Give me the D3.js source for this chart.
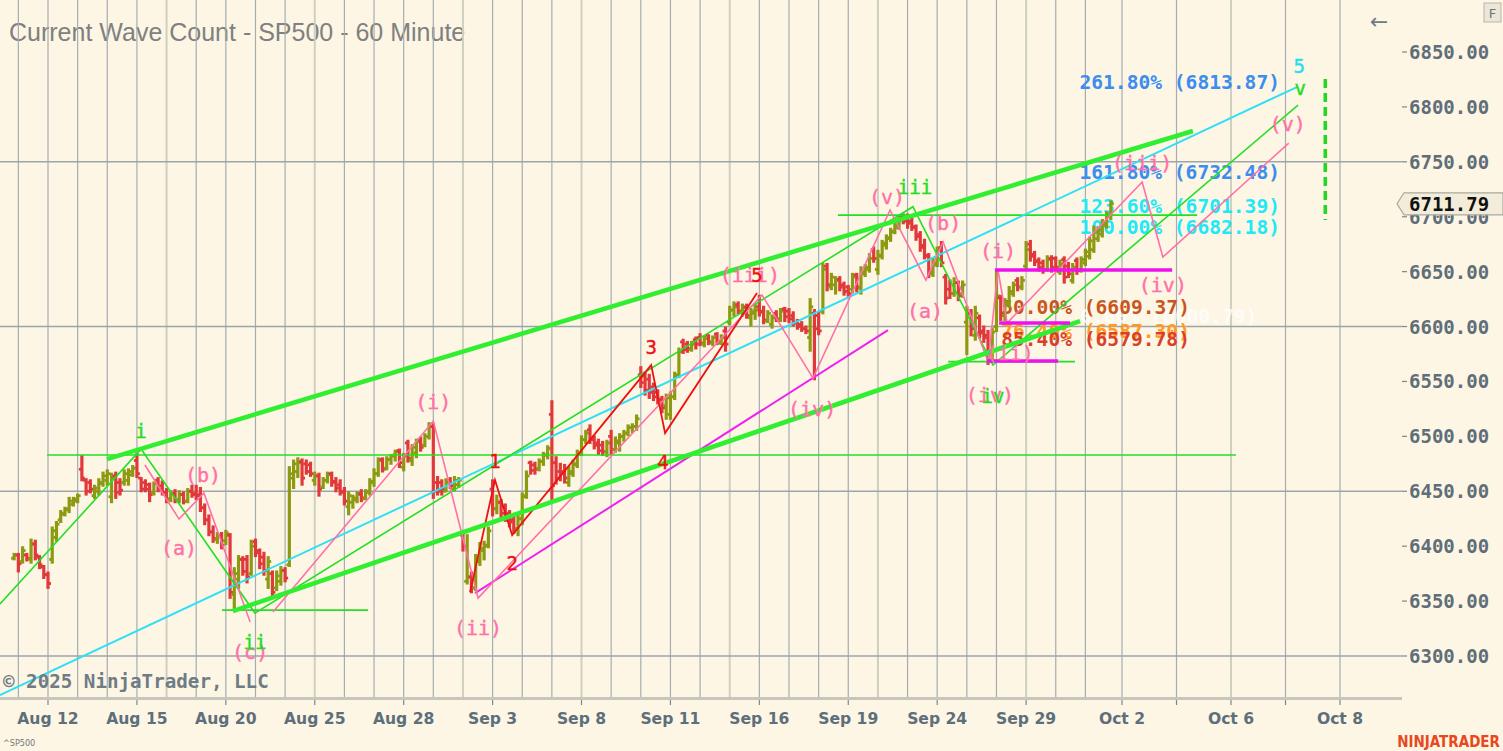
<!DOCTYPE html>
<html><head><meta charset="utf-8">
<script src="https://cdnjs.cloudflare.com/ajax/libs/d3/7.8.5/d3.min.js"></script>
<style>html,body{margin:0;padding:0;background:#fdf6e4;overflow:hidden} svg{display:block}</style>
</head><body><svg id="c" width="1503" height="751"></svg>
<script>
// ---------------- DATA ----------------
// trading days (index 0 = Aug 11); future days appended
const dayNames = ['Aug 11','Aug 12','Aug 13','Aug 14','Aug 15','Aug 18','Aug 19','Aug 20','Aug 21','Aug 22',
  'Aug 25','Aug 26','Aug 27','Aug 28','Aug 29','Sep 2','Sep 3','Sep 4','Sep 5','Sep 8','Sep 9','Sep 10',
  'Sep 11','Sep 12','Sep 15','Sep 16','Sep 17','Sep 18','Sep 19','Sep 22','Sep 23','Sep 24','Sep 25',
  'Sep 26','Sep 29','Sep 30','Oct 1','Oct 2','Oct 3','Oct 6','Oct 7','Oct 8'];
const weekStarts = [5,10,15,19,24,29,34,39];
const dateLabelDays = [1,4,7,10,13,16,19,22,25,28,31,34,37,39,41];
const extraTickDays = [38,40];
const priceTicks = [6300,6350,6400,6450,6500,6550,6600,6650,6700,6750,6800,6850];
const majorPriceLines = [6300,6450,6600,6750];
const lastPrice = 6711.79;

// hourly OHLC bars, 7 per day, [open, high, low, close]; first entry = last bar of Aug 8
const preBar = [6389,6393,6388,6392];
const hourlyBars = [
 [[6392,6393,6377,6384],[6386,6399,6385,6396],[6392,6393,6387,6389],[6388,6406,6385,6402],[6402,6405,6388,6392],[6390,6391,6380,6383],[6381,6382,6371,6374]],
 [[6374,6376,6362,6366],[6388,6417,6385,6414],[6408,6422,6405,6420],[6424,6432,6422,6430],[6429,6435,6428,6434],[6433,6444,6431,6441],[6438,6444,6437,6443]],
 [[6441,6447,6440,6446],[6470,6482,6460,6462],[6460,6461,6447,6450],[6458,6460,6449,6452],[6446,6455,6444,6453],[6450,6461,6447,6458],[6457,6467,6455,6464]],
 [[6460,6469,6456,6466],[6445,6466,6440,6462],[6464,6467,6444,6449],[6458,6461,6447,6451],[6458,6469,6456,6466],[6460,6470,6456,6468],[6465,6473,6464,6471]],
 [[6478,6484,6463,6466],[6462,6462,6450,6452],[6458,6460,6450,6452],[6456,6457,6441,6447],[6449,6458,6447,6457],[6460,6462,6450,6452],[6455,6459,6447,6449]],
 [[6449,6452,6440,6443],[6443,6450,6441,6448],[6448,6451,6440,6442],[6442,6450,6440,6447],[6447,6449,6439,6441],[6441,6452,6440,6450],[6450,6455,6445,6447]],
 [[6448,6455,6443,6446],[6447,6453,6432,6435],[6435,6438,6420,6424],[6424,6428,6410,6413],[6413,6418,6404,6407],[6406,6412,6403,6410],[6410,6412,6398,6401]],
 [[6405,6414,6402,6412],[6410,6411,6353,6358],[6356,6380,6342,6375],[6370,6391,6362,6388],[6388,6390,6374,6377],[6388,6391,6367,6372],[6375,6405,6374,6400]],
 [[6404,6406,6391,6394],[6396,6397,6380,6384],[6390,6394,6374,6378],[6370,6390,6362,6386],[6375,6377,6353,6358],[6362,6377,6360,6373],[6368,6381,6365,6378]],
 [[6378,6380,6368,6371],[6383,6472,6382,6466],[6462,6478,6453,6475],[6468,6480,6463,6476],[6477,6479,6456,6462],[6475,6478,6466,6468],[6474,6476,6464,6466]],
 [[6460,6467,6456,6464],[6464,6466,6446,6452],[6454,6462,6453,6460],[6460,6467,6458,6465],[6466,6467,6455,6458],[6459,6462,6450,6453],[6456,6460,6447,6449]],
 [[6450,6453,6438,6441],[6436,6449,6429,6446],[6440,6446,6435,6444],[6442,6449,6440,6447],[6448,6451,6441,6444],[6443,6451,6443,6450],[6449,6461,6447,6459]],
 [[6458,6470,6455,6466],[6466,6480,6464,6478],[6479,6480,6468,6470],[6471,6481,6470,6479],[6479,6483,6475,6482],[6483,6487,6478,6486],[6487,6488,6472,6476]],
 [[6472,6484,6469,6482],[6494,6496,6477,6480],[6478,6492,6474,6490],[6485,6497,6481,6495],[6497,6499,6487,6490],[6492,6502,6491,6500],[6500,6512,6498,6509]],
 [[6509,6511,6444,6450],[6458,6463,6447,6450],[6458,6460,6447,6452],[6450,6461,6450,6458],[6460,6462,6453,6455],[6452,6463,6451,6460],[6456,6462,6454,6460]],
 [[6410,6412,6396,6400],[6368,6410,6366,6372],[6372,6376,6358,6362],[6362,6392,6360,6388],[6386,6403,6383,6398],[6396,6404,6388,6401],[6400,6417,6399,6414]],
 [[6452,6460,6428,6434],[6434,6446,6430,6440],[6440,6442,6426,6430],[6436,6438,6423,6428],[6430,6432,6418,6422],[6424,6426,6412,6416],[6416,6428,6410,6425]],
 [[6425,6448,6420,6445],[6446,6468,6444,6464],[6476,6477,6466,6469],[6474,6476,6466,6470],[6471,6479,6469,6477],[6477,6485,6474,6483],[6483,6491,6480,6489]],
 [[6520,6532,6443,6455],[6476,6481,6457,6462],[6468,6475,6460,6466],[6468,6474,6458,6462],[6458,6472,6455,6468],[6466,6478,6464,6475],[6474,6487,6472,6484]],
 [[6484,6500,6483,6497],[6497,6505,6494,6503],[6506,6510,6494,6497],[6498,6500,6489,6492],[6494,6497,6484,6487],[6492,6495,6483,6486],[6486,6496,6482,6494]],
 [[6500,6505,6484,6488],[6488,6499,6486,6496],[6494,6502,6487,6500],[6500,6505,6496,6503],[6503,6510,6501,6508],[6508,6511,6504,6509],[6509,6519,6506,6516]],
 [[6556,6563,6545,6549],[6555,6558,6538,6542],[6552,6556,6535,6540],[6545,6548,6533,6536],[6540,6542,6530,6533],[6534,6536,6522,6526],[6528,6538,6516,6535]],
 [[6520,6540,6516,6536],[6536,6558,6534,6555],[6556,6580,6554,6577],[6586,6588,6576,6579],[6584,6586,6577,6580],[6579,6586,6578,6584],[6588,6590,6580,6584]],
 [[6590,6593,6583,6585],[6584,6591,6582,6589],[6592,6592,6584,6586],[6585,6591,6583,6590],[6593,6594,6584,6586],[6585,6592,6584,6590],[6596,6599,6578,6584]],
 [[6604,6618,6602,6615],[6615,6622,6610,6618],[6620,6622,6612,6614],[6613,6620,6610,6617],[6618,6620,6608,6610],[6608,6616,6601,6612],[6614,6620,6607,6615]],
 [[6618,6628,6610,6613],[6614,6618,6603,6606],[6605,6614,6604,6612],[6602,6610,6599,6608],[6612,6614,6605,6607],[6606,6616,6605,6614],[6616,6617,6605,6609]],
 [[6614,6616,6604,6607],[6610,6613,6601,6603],[6604,6606,6598,6600],[6602,6604,6596,6598],[6598,6600,6594,6596],[6590,6625,6578,6618],[6612,6615,6552,6598]],
 [[6610,6613,6593,6596],[6614,6657,6612,6652],[6655,6657,6633,6638],[6636,6648,6634,6645],[6638,6645,6630,6642],[6643,6645,6633,6636],[6638,6640,6629,6632]],
 [[6636,6637,6628,6630],[6634,6648,6631,6645],[6647,6648,6632,6636],[6635,6654,6630,6650],[6648,6656,6646,6654],[6652,6666,6650,6662],[6670,6672,6659,6662]],
 [[6652,6669,6648,6665],[6664,6678,6662,6676],[6674,6683,6671,6681],[6680,6689,6678,6687],[6686,6694,6685,6692],[6690,6700,6689,6697],[6700,6702,6694,6696]],
 [[6698,6702,6690,6694],[6696,6698,6688,6690],[6691,6692,6679,6682],[6684,6686,6669,6672],[6674,6679,6662,6665],[6664,6666,6645,6650],[6648,6662,6646,6658]],
 [[6656,6672,6655,6670],[6672,6677,6655,6658],[6645,6647,6621,6626],[6634,6642,6626,6630],[6630,6644,6628,6640],[6640,6641,6624,6628],[6630,6641,6627,6638]],
 [[6604,6618,6575,6612],[6612,6615,6592,6598],[6592,6618,6588,6612],[6608,6610,6590,6594],[6596,6600,6586,6590],[6592,6596,6566,6576],[6578,6598,6568,6595]],
 [[6600,6651,6596,6628],[6626,6628,6606,6612],[6610,6625,6606,6622],[6620,6636,6618,6632],[6630,6640,6628,6638],[6642,6644,6633,6636],[6636,6645,6634,6642]],
 [[6655,6677,6653,6670],[6675,6678,6660,6664],[6666,6668,6656,6659],[6660,6662,6651,6654],[6658,6660,6649,6652],[6652,6664,6651,6661],[6662,6664,6650,6654]],
 [[6662,6663,6651,6654],[6650,6660,6648,6657],[6661,6663,6640,6645],[6655,6658,6645,6648],[6642,6657,6640,6654],[6660,6662,6648,6651],[6652,6663,6650,6661]],
 [[6658,6670,6656,6668],[6664,6681,6662,6678],[6670,6691,6668,6686],[6680,6690,6678,6688],[6684,6697,6682,6694],[6692,6704,6690,6702],[6700,6714,6698,6711.79]]
];

// annotation anchors: [day position, price]
const thickChannel = [ [[2.99,6479.3],[38.30,6778.1]], [[7.24,6340.9],[35.82,6605.0]] ];
const cyanTrend = [[-0.62,6264.4],[40.21,6818.1]];
const greenWaves = [[-0.62,6347.3],[4.14,6488.4],[7.98,6339.1],[30.18,6709.1],[32.88,6564.9],[40.23,6801.7]];
const greenLevels = [[0.97,39.09,6483.0],[6.87,11.80,6341.8],[27.65,38.38,6701.5],[31.37,35.65,6568.1]];
const pinkABC = [[4.27,6473.9],[5.42,6424.7],[6.26,6448.4],[7.82,6330.9]];
const pinkWaves = [[8.59,6340.0],[14.0,6513.9],[15.51,6352.7],[25.09,6628.7],[26.81,6553.1],[29.41,6706.1],[30.62,6642.3],[31.20,6677.0],[32.72,6567.7]];
const pinkSubWaves = [[32.72,6567.7],[33.05,6651.5],[33.36,6603.2],[37.37,6731.6],[37.75,6663.3],[40.06,6767.1]];
const magentaChannel = [[15.41,6357.3],[29.34,6596.8]];
const magentaLevels = [[32.95,37.92,6651.5],[33.09,35.48,6603.2],[32.68,35.08,6568.6]];
const redWaves = [[15.24,6358.2],[16.08,6460.2],[16.66,6410.1],[21.35,6564.9],[21.82,6503.0],[24.92,6630.5]];
const targetZone = [40.73, 6825.4, 6697.0];

const fibLevels = [
 {t:35.80, v:6813.87, pct:'261.80%', c:'#3b8df0'},
 {t:35.80, v:6732.48, pct:'161.80%', c:'#3b8df0'},
 {t:35.80, v:6701.39, pct:'123.60%', c:'#1fe9f7'},
 {t:35.80, v:6682.18, pct:'100.00%', c:'#1fe9f7'},
 {t:35.83, v:6600.79, pct:'0.00%',   c:'#ffffff'},
 {t:33.16, v:6609.37, pct:'50.00%',  c:'#c8561e'},
 {t:33.16, v:6587.30, pct:'76.40%',  c:'#ff9a26'},
 {t:33.16, v:6579.78, pct:'85.40%',  c:'#d9402a'}
];

const greenLabels = [[4.14,6504.8,'i'],[7.98,6312.6,'ii'],[30.25,6727.0,'iii'],[32.88,6536.7,'iv'],[40.27,6817.2,'v']];
const cyanLabels = [[40.25,6837.2,'5']];
const pinkLabels = [[5.42,6398.3,'(a)'],[6.23,6464.8,'(b)'],[7.82,6303.6,'(c)'],[14.0,6531.2,'(i)'],[15.51,6325.4,'(ii)'],
 [24.68,6646.9,'(iii)'],[26.78,6524.9,'(iv)'],[29.31,6717.9,'(v)'],[30.59,6614.1,'(a)'],[31.20,6694.3,'(b)'],
 [33.05,6668.8,'(i)'],[33.45,6575.9,'(ii)'],[32.78,6537.6,'(iv)'],[37.37,6748.9,'(iii)'],[37.75,6637.8,'(iv)'],[40.04,6784.4,'(v)']];
const redLabels = [[16.08,6477.5,'1'],[16.66,6384.6,'2'],[21.35,6581.3,'3'],[21.75,6476.6,'4'],[24.92,6646.9,'5']];

// ---------------- CHART ----------------
const W = 1503, H = 751, plotR = 1402, plotB = 697;
const svg = d3.select('#c');
const x = d3.scaleLinear().domain([0, 36 + 6/7, 37, 41]).range([18.36, 1110.8, 1122, 1340]);
const y = d3.scaleLinear().domain([6300, 6850]).range([656, 52]);
const mono = "'DejaVu Sans Mono', monospace";

svg.append('rect').attr('width', W).attr('height', H).attr('fill', '#fdf6e4');
svg.append('defs').append('clipPath').attr('id','plot').append('rect')
  .attr('x',0).attr('y',0).attr('width',plotR).attr('height',plotB);

// title (under grid)
svg.append('text').attr('x', 9).attr('y', 32).attr('dominant-baseline','central')
  .attr('font-family',"'Liberation Sans', Arial, sans-serif").attr('font-size', 25)
  .attr('fill', '#808080').text('Current Wave Count - SP500 - 60 Minute');

const plot = svg.append('g').attr('clip-path','url(#plot)');

// vertical grid: one per trading day
plot.append('g').selectAll('line').data(d3.range(0, 42)).join('line')
  .attr('x1', d => x(d)).attr('x2', d => x(d)).attr('y1', 0).attr('y2', plotB)
  .attr('stroke', d => weekStarts.includes(d) ? '#cfcfc2' : '#a5adb2')
  .attr('stroke-width', d => weekStarts.includes(d) ? 2 : 1.2);
// horizontal grid
plot.append('g').selectAll('line').data(majorPriceLines).join('line')
  .attr('x1', 0).attr('x2', plotR).attr('y1', d => y(d)).attr('y2', d => y(d))
  .attr('stroke', '#9da5a9').attr('stroke-width', 1.6);

// copyright
svg.append('text').attr('x', 3).attr('y', 681).attr('dominant-baseline','central')
  .attr('font-family', mono).attr('font-weight','bold').attr('font-size', 19.2)
  .attr('fill', '#6f7c86').text('© 2025 NinjaTrader, LLC');

// fib texts (drawn under bars)
plot.append('g').selectAll('text').data(fibLevels).join('text')
  .attr('x', d => x(d.t)).attr('y', d => y(d.v) - 9).attr('dominant-baseline','central')
  .attr('font-family', mono).attr('font-weight','bold').attr('font-size', 19.6)
  .attr('fill', d => d.c).attr('opacity', d => d.pct === '0.00%' ? 0.75 : 1)
  .text(d => `${d.pct} (${d.v.toFixed(2)})`);

// bars
const barList = [{t: -1 + 6/7, b: preBar}];
hourlyBars.forEach((day, di) => day.forEach((b, k) => barList.push({t: di + k/7, b})));
const gBars = plot.append('g');
barList.forEach(d => {
  const [o, h, l, c] = d.b;
  const cx = x(d.t);
  const col = c >= o ? '#8c9a12' : '#e0393b';
  gBars.append('line').attr('x1', cx).attr('x2', cx).attr('y1', y(h) - 1).attr('y2', y(l) + 1)
    .attr('stroke', col).attr('stroke-width', 3.2);
  gBars.append('line').attr('x1', cx - 3).attr('x2', cx).attr('y1', y(o)).attr('y2', y(o))
    .attr('stroke', col).attr('stroke-width', 2.8);
  gBars.append('line').attr('x1', cx).attr('x2', cx + 3).attr('y1', y(c)).attr('y2', y(c))
    .attr('stroke', col).attr('stroke-width', 2.8);
});

// annotation lines
const line = d3.line().x(d => x(d[0])).y(d => y(d[1]));
const gA = plot.append('g').attr('fill', 'none');
function poly(pts, col, w, dash) {
  const p = gA.append('path').attr('d', line(pts)).attr('stroke', col).attr('stroke-width', w)
    .attr('stroke-linejoin','miter');
  if (dash) p.attr('stroke-dasharray', dash);
}
greenLevels.forEach(l => poly([[l[0], l[2]], [l[1], l[2]]], '#22e022', 1.6));
poly(cyanTrend, '#2fe0f5', 2);
poly(magentaChannel, '#ee22ee', 2);
poly(greenWaves, '#22e022', 1.6);
poly(pinkABC, '#ff70a8', 1.6);
poly(pinkWaves, '#ff70a8', 1.6);
poly(pinkSubWaves, '#ff70a8', 1.6);
poly(redWaves, '#ee1111', 1.8);
thickChannel.forEach(c => poly(c, '#30ee30', 4.6));
magentaLevels.forEach(l => poly([[l[0], l[2]], [l[1], l[2]]], '#ee11ee', 3.4));
poly([[targetZone[0], targetZone[1]], [targetZone[0], targetZone[2]]], '#22d822', 3.6, '9,5');

// wave labels
function labels(data, col, size) {
  plot.append('g').selectAll('text').data(data).join('text')
    .attr('x', d => x(d[0])).attr('y', d => y(d[1])).attr('text-anchor','middle')
    .attr('dominant-baseline','central').attr('font-family', mono).attr('font-size', size)
    .attr('fill', col).attr('stroke', col).attr('stroke-width', 0.4).text(d => d[2]);
}
labels(pinkLabels, '#ff70a8', 20);
labels(greenLabels, '#22dd22', 19);
labels(cyanLabels, '#22e0f0', 19);
labels(redLabels, '#ee1111', 19);

// x axis
svg.append('line').attr('x1', 0).attr('x2', plotR).attr('y1', 698.5).attr('y2', 698.5)
  .attr('stroke', '#c6c6bd').attr('stroke-width', 3);
svg.append('g').selectAll('line').data(dateLabelDays.concat(extraTickDays)).join('line')
  .attr('x1', d => x(d)).attr('x2', d => x(d)).attr('y1', 700).attr('y2', 705)
  .attr('stroke', '#7b8790').attr('stroke-width', 1.2);
svg.append('g').selectAll('text').data(dateLabelDays).join('text')
  .attr('x', d => x(d)).attr('y', 719).attr('text-anchor','middle').attr('dominant-baseline','central')
  .attr('font-family', "'DejaVu Sans', sans-serif").attr('font-weight','bold').attr('font-size', 15.6)
  .attr('fill', '#5d6f7b').text(d => dayNames[d]);

// price axis
svg.append('g').selectAll('line').data(priceTicks).join('line')
  .attr('x1', plotR).attr('x2', plotR + 5).attr('y1', d => y(d)).attr('y2', d => y(d))
  .attr('stroke', '#7b8790').attr('stroke-width', 1.2);
svg.append('g').selectAll('text').data(priceTicks).join('text')
  .attr('x', 1409).attr('y', d => y(d)).attr('dominant-baseline','central')
  .attr('font-family', mono).attr('font-weight','bold').attr('font-size', 19)
  .attr('fill', '#5f6e79').text(d => d.toFixed(2));

// last price marker
const ly = y(lastPrice);
svg.append('path').attr('d', `M1397,${ly} L1404,${ly-11} H1503 V${ly+11} H1404 Z`)
  .attr('fill', '#f2ecd9').attr('stroke', '#a7a9a2').attr('stroke-width', 1.2);
svg.append('text').attr('x', 1409).attr('y', ly).attr('dominant-baseline','central')
  .attr('font-family', mono).attr('font-weight','bold').attr('font-size', 19)
  .attr('fill', '#111').text(lastPrice.toFixed(2));

// top-right controls
svg.append('text').attr('x', 1379).attr('y', 21).attr('text-anchor','middle').attr('dominant-baseline','central')
  .attr('font-family', "'DejaVu Sans', sans-serif").attr('font-size', 22).attr('fill', '#6d7b85').text('←');
svg.append('rect').attr('x', 1484).attr('y', 3).attr('width', 17).attr('height', 19)
  .attr('fill', '#ebe6d6').attr('stroke', '#b5b5ad');
svg.append('text').attr('x', 1492.5).attr('y', 13).attr('text-anchor','middle').attr('dominant-baseline','central')
  .attr('font-family', "'DejaVu Sans', sans-serif").attr('font-size', 13).attr('fill', '#667780').text('F');

// footer
svg.append('text').attr('x', 3).attr('y', 743).attr('dominant-baseline','central')
  .attr('font-family', "'DejaVu Sans Condensed','DejaVu Sans', sans-serif").attr('font-size', 9)
  .attr('fill', '#777').text('^SP500');
svg.append('text').attr('x', 1500).attr('y', 742).attr('text-anchor','end').attr('dominant-baseline','central')
  .attr('font-family', "'DejaVu Sans Condensed','DejaVu Sans', sans-serif").attr('font-weight','bold')
  .attr('font-size', 15).attr('fill', '#e8481c').text('NINJATRADER');
</script></body></html>
